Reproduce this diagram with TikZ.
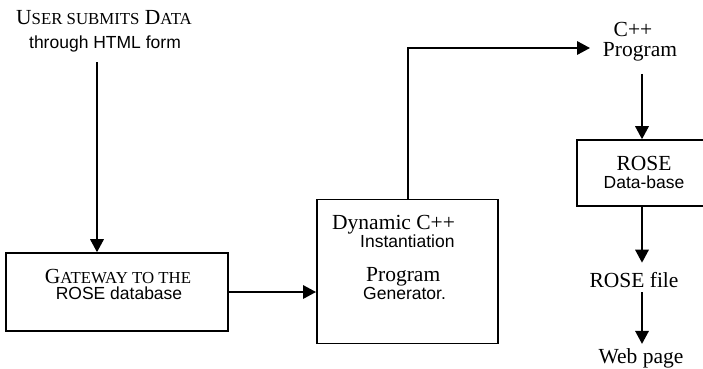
\documentclass[tikz,border=0pt]{standalone}
\usepackage{fontspec}
\setmainfont{Liberation Serif}
\newfontfamily\arialfont{Liberation Sans}
\usetikzlibrary{arrows.meta}
\tikzset{
  flow/.style={line width=1.8pt, -{Triangle[length=13pt,width=13.5pt]}},
  boxed/.style={draw, line width=1.6pt, inner sep=0pt},
  tms/.style={inner sep=0pt, anchor=base, font=\fontsize{21.5}{21.5}\selectfont},
  ars/.style={inner sep=0pt, anchor=base, font=\arialfont\fontsize{17.5}{17.5}\selectfont},
}
\newcommand{\smallcap}[1]{{\fontsize{16.8}{16.8}\selectfont #1}}
\begin{document}
\begin{tikzpicture}[x=1pt, y=-1pt]
\useasboundingbox (0,0) rectangle (703,368);

% source of the data
\node[tms] (user1) at (104,24) {U\smallcap{SER SUBMITS} D\smallcap{ATA}};
\node[ars] (user2) at (105,48.5) {through HTML form};

% gateway box
\node[boxed, minimum width=222pt, minimum height=78pt] (gw) at (117,292) {};
\node[tms] (gw1) at (118,283) {G\smallcap{ATEWAY TO THE}};
\node[ars] (gw2) at (119,299.5) {ROSE database};

% program generator box
\node[boxed, minimum width=181pt, minimum height=144pt] (dyn) at (407.3,271.4) {};
\node[tms, anchor=base west] (dyn1) at (332,229.3) {Dynamic C++};
\node[ars, anchor=base west] (dyn2) at (360,247.5) {Instantiation};
\node[tms, anchor=base west] (dyn3) at (366,281) {Program};
\node[ars, anchor=base west] (dyn4) at (363,299) {Generator.};

% generated program
\node[tms] (cpp1) at (633,36.5) {C++};
\node[tms] (cpp2) at (640,56) {Program};
\coordinate (cpptip) at (590,48);

% ROSE database box (runs past the right edge)
\node[boxed, minimum width=134pt, minimum height=66pt] (rose) at (644,173) {};
\node[tms] (rose1) at (644,170.5) {ROSE};
\node[ars] (rose2) at (644,188) {Data-base};

% outputs
\node[tms] (file) at (634,287) {ROSE file};
\node[tms] (web) at (641,363) {Web page};

\coordinate (ux) at (97,0);
\coordinate (rx) at (642,0);

\draw[flow] ([yshift=-10pt]user2.south -| ux) -- (gw.north -| ux);
\draw[flow] (gw.east) -- (gw.east -| dyn.west);
\draw[flow] (dyn.north -| 408,0) |- (cpptip);
\draw[flow] ([yshift=-13pt]cpp2.south -| rx) -- (rose.north -| rx);
\draw[flow] (rose.south -| rx) -- ([yshift=9pt]file.north -| rx);
\draw[flow] ([yshift=-5pt]file.south -| rx) -- ([yshift=4pt]web.north -| rx);
\end{tikzpicture}
\end{document}
